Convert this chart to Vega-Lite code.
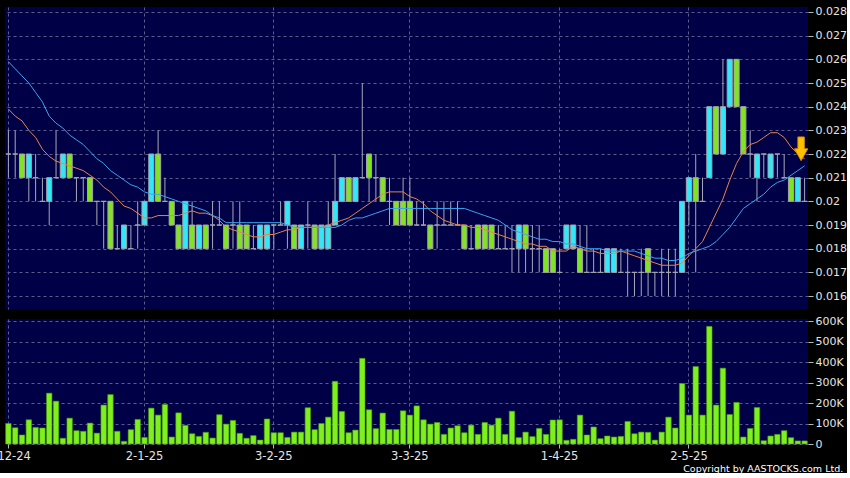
{
"$schema": "https://vega.github.io/schema/vega-lite/v6.json",
"background": "#000000",
"padding": {"left": -15, "top": 5, "right": 0, "bottom": 0},
"spacing": 6,
"config": {
  "view": {"fill": "#000046", "stroke": null},
  "axis": {"labelFont": "DejaVu Sans", "labelFontSize": 11, "labelColor": "#e4e4e4", "domain": false, "tickColor": "#b8b8b8", "gridColor": "#5c5c8c", "gridDash": [3, 3], "gridWidth": 1, "title": null, "labelOverlap": false}
},
"datasets": {
"k": [
{"i":0,"o":0.022,"h":0.023,"l":0.021,"c":0.022,"v":100000,"a":0.0239,"b":0.0259},
{"i":1,"o":0.022,"h":0.023,"l":0.021,"c":0.022,"v":79000,"a":0.0236,"b":0.0256},
{"i":2,"o":0.022,"h":0.022,"l":0.021,"c":0.021,"v":44000,"a":0.0234,"b":0.0253},
{"i":3,"o":0.021,"h":0.022,"l":0.020,"c":0.022,"v":118000,"a":0.0230,"b":0.0250},
{"i":4,"o":0.021,"h":0.022,"l":0.020,"c":0.021,"v":81000,"a":0.0227,"b":0.0246},
{"i":5,"o":0.020,"h":0.021,"l":0.020,"c":0.020,"v":78000,"a":0.0222,"b":0.0242},
{"i":6,"o":0.020,"h":0.021,"l":0.019,"c":0.021,"v":248000,"a":0.0219,"b":0.0236},
{"i":7,"o":0.021,"h":0.023,"l":0.021,"c":0.021,"v":209000,"a":0.0217,"b":0.0233},
{"i":8,"o":0.021,"h":0.022,"l":0.021,"c":0.022,"v":28000,"a":0.0216,"b":0.0231},
{"i":9,"o":0.022,"h":0.022,"l":0.021,"c":0.021,"v":126000,"a":0.0215,"b":0.0228},
{"i":10,"o":0.021,"h":0.021,"l":0.020,"c":0.021,"v":65000,"a":0.0214,"b":0.0226},
{"i":11,"o":0.021,"h":0.021,"l":0.020,"c":0.021,"v":62000,"a":0.0213,"b":0.0224},
{"i":12,"o":0.021,"h":0.021,"l":0.020,"c":0.020,"v":102000,"a":0.0211,"b":0.0221},
{"i":13,"o":0.020,"h":0.020,"l":0.019,"c":0.020,"v":53000,"a":0.0209,"b":0.0218},
{"i":14,"o":0.020,"h":0.020,"l":0.018,"c":0.020,"v":190000,"a":0.0206,"b":0.0216},
{"i":15,"o":0.020,"h":0.020,"l":0.018,"c":0.018,"v":241000,"a":0.0204,"b":0.0213},
{"i":16,"o":0.018,"h":0.019,"l":0.018,"c":0.018,"v":62000,"a":0.0201,"b":0.0211},
{"i":17,"o":0.018,"h":0.019,"l":0.018,"c":0.019,"v":13000,"a":0.0198,"b":0.0209},
{"i":18,"o":0.018,"h":0.019,"l":0.018,"c":0.018,"v":70000,"a":0.0197,"b":0.0207},
{"i":19,"o":0.019,"h":0.020,"l":0.018,"c":0.019,"v":120000,"a":0.0195,"b":0.0206},
{"i":20,"o":0.019,"h":0.020,"l":0.019,"c":0.020,"v":32000,"a":0.0193,"b":0.0204},
{"i":21,"o":0.020,"h":0.022,"l":0.020,"c":0.022,"v":175000,"a":0.0193,"b":0.0203},
{"i":22,"o":0.022,"h":0.023,"l":0.020,"c":0.020,"v":141000,"a":0.0194,"b":0.0203},
{"i":23,"o":0.020,"h":0.021,"l":0.020,"c":0.020,"v":193000,"a":0.0194,"b":0.0202},
{"i":24,"o":0.020,"h":0.020,"l":0.019,"c":0.019,"v":34000,"a":0.0194,"b":0.0201},
{"i":25,"o":0.019,"h":0.019,"l":0.018,"c":0.018,"v":152000,"a":0.0194,"b":0.0200},
{"i":26,"o":0.018,"h":0.020,"l":0.018,"c":0.020,"v":91000,"a":0.0195,"b":0.0199},
{"i":27,"o":0.019,"h":0.020,"l":0.018,"c":0.018,"v":50000,"a":0.0196,"b":0.0198},
{"i":28,"o":0.018,"h":0.019,"l":0.018,"c":0.019,"v":37000,"a":0.0195,"b":0.0197},
{"i":29,"o":0.019,"h":0.019,"l":0.018,"c":0.018,"v":57000,"a":0.0195,"b":0.0196},
{"i":30,"o":0.019,"h":0.020,"l":0.018,"c":0.019,"v":29000,"a":0.0194,"b":0.0194},
{"i":31,"o":0.019,"h":0.020,"l":0.019,"c":0.019,"v":143000,"a":0.0192,"b":0.0193},
{"i":32,"o":0.019,"h":0.019,"l":0.018,"c":0.018,"v":97000,"a":0.0189,"b":0.0191},
{"i":33,"o":0.019,"h":0.020,"l":0.018,"c":0.019,"v":115000,"a":0.0188,"b":0.0191},
{"i":34,"o":0.019,"h":0.020,"l":0.018,"c":0.018,"v":52000,"a":0.0187,"b":0.0191},
{"i":35,"o":0.019,"h":0.019,"l":0.018,"c":0.018,"v":28000,"a":0.0186,"b":0.0191},
{"i":36,"o":0.018,"h":0.019,"l":0.018,"c":0.018,"v":41000,"a":0.0185,"b":0.0191},
{"i":37,"o":0.018,"h":0.019,"l":0.018,"c":0.019,"v":19000,"a":0.0185,"b":0.0191},
{"i":38,"o":0.018,"h":0.019,"l":0.018,"c":0.019,"v":122000,"a":0.0186,"b":0.0191},
{"i":39,"o":0.019,"h":0.019,"l":0.018,"c":0.019,"v":55000,"a":0.0186,"b":0.0191},
{"i":40,"o":0.019,"h":0.020,"l":0.019,"c":0.019,"v":55000,"a":0.0187,"b":0.0191},
{"i":41,"o":0.019,"h":0.020,"l":0.018,"c":0.020,"v":32000,"a":0.0188,"b":0.0190},
{"i":42,"o":0.019,"h":0.019,"l":0.018,"c":0.018,"v":58000,"a":0.0188,"b":0.0189},
{"i":43,"o":0.018,"h":0.019,"l":0.018,"c":0.019,"v":58000,"a":0.0189,"b":0.0189},
{"i":44,"o":0.019,"h":0.020,"l":0.018,"c":0.019,"v":177000,"a":0.0189,"b":0.0189},
{"i":45,"o":0.019,"h":0.019,"l":0.018,"c":0.018,"v":70000,"a":0.0189,"b":0.0189},
{"i":46,"o":0.018,"h":0.019,"l":0.018,"c":0.019,"v":100000,"a":0.0189,"b":0.0189},
{"i":47,"o":0.018,"h":0.020,"l":0.018,"c":0.019,"v":131000,"a":0.0190,"b":0.0189},
{"i":48,"o":0.019,"h":0.022,"l":0.019,"c":0.020,"v":306000,"a":0.0191,"b":0.0189},
{"i":49,"o":0.020,"h":0.021,"l":0.020,"c":0.021,"v":159000,"a":0.0192,"b":0.0190},
{"i":50,"o":0.021,"h":0.021,"l":0.020,"c":0.020,"v":55000,"a":0.0193,"b":0.0192},
{"i":51,"o":0.020,"h":0.021,"l":0.020,"c":0.021,"v":68000,"a":0.0195,"b":0.0193},
{"i":52,"o":0.021,"h":0.025,"l":0.021,"c":0.021,"v":418000,"a":0.0197,"b":0.0193},
{"i":53,"o":0.022,"h":0.022,"l":0.020,"c":0.021,"v":167000,"a":0.0199,"b":0.0194},
{"i":54,"o":0.021,"h":0.022,"l":0.020,"c":0.021,"v":75000,"a":0.0201,"b":0.0195},
{"i":55,"o":0.021,"h":0.021,"l":0.020,"c":0.020,"v":151000,"a":0.0203,"b":0.0196},
{"i":56,"o":0.020,"h":0.021,"l":0.019,"c":0.020,"v":71000,"a":0.0204,"b":0.0197},
{"i":57,"o":0.020,"h":0.020,"l":0.019,"c":0.019,"v":71000,"a":0.0204,"b":0.0197},
{"i":58,"o":0.020,"h":0.021,"l":0.019,"c":0.019,"v":162000,"a":0.0204,"b":0.0197},
{"i":59,"o":0.020,"h":0.021,"l":0.019,"c":0.019,"v":141000,"a":0.0202,"b":0.0197},
{"i":60,"o":0.019,"h":0.020,"l":0.019,"c":0.019,"v":186000,"a":0.0201,"b":0.0197},
{"i":61,"o":0.019,"h":0.020,"l":0.019,"c":0.019,"v":118000,"a":0.0199,"b":0.0197},
{"i":62,"o":0.019,"h":0.019,"l":0.018,"c":0.018,"v":97000,"a":0.0196,"b":0.0197},
{"i":63,"o":0.019,"h":0.020,"l":0.018,"c":0.019,"v":105000,"a":0.0194,"b":0.0197},
{"i":64,"o":0.019,"h":0.020,"l":0.019,"c":0.019,"v":47000,"a":0.0192,"b":0.0197},
{"i":65,"o":0.019,"h":0.020,"l":0.019,"c":0.019,"v":78000,"a":0.0191,"b":0.0197},
{"i":66,"o":0.019,"h":0.020,"l":0.019,"c":0.019,"v":89000,"a":0.0190,"b":0.0197},
{"i":67,"o":0.019,"h":0.019,"l":0.018,"c":0.018,"v":55000,"a":0.0190,"b":0.0197},
{"i":68,"o":0.018,"h":0.019,"l":0.018,"c":0.018,"v":92000,"a":0.0189,"b":0.0196},
{"i":69,"o":0.019,"h":0.019,"l":0.018,"c":0.018,"v":47000,"a":0.0189,"b":0.0195},
{"i":70,"o":0.019,"h":0.019,"l":0.018,"c":0.018,"v":105000,"a":0.0188,"b":0.0194},
{"i":71,"o":0.019,"h":0.019,"l":0.018,"c":0.018,"v":92000,"a":0.0187,"b":0.0193},
{"i":72,"o":0.018,"h":0.019,"l":0.018,"c":0.018,"v":126000,"a":0.0186,"b":0.0192},
{"i":73,"o":0.018,"h":0.019,"l":0.018,"c":0.018,"v":47000,"a":0.0185,"b":0.0190},
{"i":74,"o":0.018,"h":0.019,"l":0.017,"c":0.018,"v":160000,"a":0.0184,"b":0.0188},
{"i":75,"o":0.018,"h":0.019,"l":0.017,"c":0.019,"v":31000,"a":0.0183,"b":0.0187},
{"i":76,"o":0.019,"h":0.019,"l":0.017,"c":0.018,"v":58000,"a":0.0182,"b":0.0186},
{"i":77,"o":0.018,"h":0.019,"l":0.017,"c":0.018,"v":36000,"a":0.0182,"b":0.0185},
{"i":78,"o":0.018,"h":0.019,"l":0.017,"c":0.018,"v":76000,"a":0.0181,"b":0.0184},
{"i":79,"o":0.018,"h":0.018,"l":0.017,"c":0.017,"v":47000,"a":0.0181,"b":0.0184},
{"i":80,"o":0.018,"h":0.018,"l":0.017,"c":0.017,"v":117000,"a":0.0179,"b":0.0183},
{"i":81,"o":0.017,"h":0.018,"l":0.017,"c":0.017,"v":118000,"a":0.0179,"b":0.0183},
{"i":82,"o":0.018,"h":0.019,"l":0.018,"c":0.019,"v":18000,"a":0.0179,"b":0.0182},
{"i":83,"o":0.018,"h":0.019,"l":0.018,"c":0.019,"v":23000,"a":0.0181,"b":0.0182},
{"i":84,"o":0.018,"h":0.019,"l":0.017,"c":0.017,"v":141000,"a":0.0180,"b":0.0181},
{"i":85,"o":0.017,"h":0.019,"l":0.017,"c":0.017,"v":44000,"a":0.0179,"b":0.0180},
{"i":86,"o":0.017,"h":0.018,"l":0.017,"c":0.017,"v":83000,"a":0.0179,"b":0.0180},
{"i":87,"o":0.017,"h":0.018,"l":0.017,"c":0.017,"v":26000,"a":0.0178,"b":0.0180},
{"i":88,"o":0.017,"h":0.018,"l":0.017,"c":0.018,"v":39000,"a":0.0178,"b":0.0179},
{"i":89,"o":0.017,"h":0.018,"l":0.017,"c":0.018,"v":34000,"a":0.0178,"b":0.0179},
{"i":90,"o":0.017,"h":0.018,"l":0.017,"c":0.017,"v":37000,"a":0.0179,"b":0.0179},
{"i":91,"o":0.017,"h":0.018,"l":0.016,"c":0.017,"v":110000,"a":0.0178,"b":0.0179},
{"i":92,"o":0.017,"h":0.017,"l":0.016,"c":0.017,"v":50000,"a":0.0177,"b":0.0179},
{"i":93,"o":0.017,"h":0.018,"l":0.016,"c":0.017,"v":58000,"a":0.0176,"b":0.0178},
{"i":94,"o":0.018,"h":0.018,"l":0.016,"c":0.017,"v":57000,"a":0.0175,"b":0.0177},
{"i":95,"o":0.017,"h":0.017,"l":0.016,"c":0.017,"v":19000,"a":0.0174,"b":0.0176},
{"i":96,"o":0.017,"h":0.018,"l":0.016,"c":0.017,"v":58000,"a":0.0173,"b":0.0176},
{"i":97,"o":0.017,"h":0.018,"l":0.016,"c":0.017,"v":131000,"a":0.0173,"b":0.0175},
{"i":98,"o":0.017,"h":0.018,"l":0.016,"c":0.017,"v":78000,"a":0.0173,"b":0.0175},
{"i":99,"o":0.017,"h":0.020,"l":0.017,"c":0.020,"v":295000,"a":0.0174,"b":0.0176},
{"i":100,"o":0.020,"h":0.021,"l":0.019,"c":0.021,"v":141000,"a":0.0177,"b":0.0178},
{"i":101,"o":0.021,"h":0.022,"l":0.017,"c":0.020,"v":378000,"a":0.0180,"b":0.0179},
{"i":102,"o":0.020,"h":0.021,"l":0.020,"c":0.020,"v":141000,"a":0.0183,"b":0.0180},
{"i":103,"o":0.021,"h":0.024,"l":0.021,"c":0.024,"v":574000,"a":0.0189,"b":0.0181},
{"i":104,"o":0.024,"h":0.024,"l":0.022,"c":0.022,"v":190000,"a":0.0195,"b":0.0183},
{"i":105,"o":0.022,"h":0.026,"l":0.022,"c":0.024,"v":370000,"a":0.0201,"b":0.0186},
{"i":106,"o":0.024,"h":0.026,"l":0.024,"c":0.026,"v":144000,"a":0.0209,"b":0.0189},
{"i":107,"o":0.026,"h":0.026,"l":0.024,"c":0.024,"v":203000,"a":0.0216,"b":0.0193},
{"i":108,"o":0.024,"h":0.024,"l":0.022,"c":0.022,"v":34000,"a":0.0221,"b":0.0197},
{"i":109,"o":0.022,"h":0.023,"l":0.021,"c":0.022,"v":76000,"a":0.0224,"b":0.0199},
{"i":110,"o":0.021,"h":0.022,"l":0.020,"c":0.022,"v":178000,"a":0.0225,"b":0.0201},
{"i":111,"o":0.022,"h":0.022,"l":0.021,"c":0.022,"v":16000,"a":0.0227,"b":0.0203},
{"i":112,"o":0.021,"h":0.022,"l":0.021,"c":0.022,"v":39000,"a":0.0229,"b":0.0206},
{"i":113,"o":0.022,"h":0.022,"l":0.021,"c":0.022,"v":47000,"a":0.0229,"b":0.0208},
{"i":114,"o":0.021,"h":0.022,"l":0.021,"c":0.021,"v":65000,"a":0.0227,"b":0.0209},
{"i":115,"o":0.021,"h":0.021,"l":0.020,"c":0.020,"v":31000,"a":0.0223,"b":0.0211},
{"i":116,"o":0.020,"h":0.021,"l":0.020,"c":0.021,"v":15000,"a":0.0220,"b":0.0213},
{"i":117,"o":0.020,"h":0.021,"l":0.020,"c":0.020,"v":15000,"a":0.0218,"b":0.0215}
],
"sig": [{"i": 117, "p": 0.02222}]
},
"vconcat": [
{
  "width": 803,
  "height": 302,
  "data": {"name": "k"},
  "encoding": {
    "x": {"field": "i", "type": "ordinal",
      "scale": {"paddingInner": 0.25, "paddingOuter": 0.125},
      "axis": {"values": [0, 20, 39, 59, 81, 100], "labels": false, "ticks": false, "grid": true, "bandPosition": 0.5, "minExtent": 0, "maxExtent": 0, "offset": 0}}
  },
  "layer": [
    {"mark": {"type": "rule", "color": "#a8a8b8", "strokeWidth": 1},
     "encoding": {
       "y": {"field": "l", "type": "quantitative",
         "scale": {"domain": [0.015452, 0.028211], "nice": false, "zero": false},
         "axis": {"orient": "right", "values": [0.016, 0.017, 0.018, 0.019, 0.02, 0.021, 0.022, 0.023, 0.024, 0.025, 0.026, 0.027, 0.028], "tickCount": 13, "labelExpr": "format(datum.value, '.3~f')", "grid": true, "tickSize": 5, "labelPadding": 2, "labelOverlap": false, "labelBound": false, "labelSeparation": 0}},
       "y2": {"field": "h"}}},
    {"mark": {"type": "bar", "stroke": "#a4a4ac", "strokeWidth": 1},
     "encoding": {
       "y": {"field": "o", "type": "quantitative", "axis": {"orient": "right", "values": [0.016, 0.017, 0.018, 0.019, 0.02, 0.021, 0.022, 0.023, 0.024, 0.025, 0.026, 0.027, 0.028], "tickCount": 13, "labelExpr": "format(datum.value, '.3~f')", "grid": true, "tickSize": 5, "labelPadding": 2, "labelOverlap": false, "labelBound": false, "labelSeparation": 0}},
       "y2": {"field": "c"},
       "fill": {"condition": {"test": "datum.c > datum.o", "value": "#30e8f8"}, "value": "#80e41e"}}},
    {"mark": {"type": "line", "color": "#e8844a", "strokeWidth": 1},
     "encoding": {"y": {"field": "a", "type": "quantitative"}}},
    {"mark": {"type": "line", "color": "#3aa4ee", "strokeWidth": 1},
     "encoding": {"y": {"field": "b", "type": "quantitative"}}},
    {"data": {"name": "sig"},
     "mark": {"type": "point", "shape": "M-0.27,-1L0.27,-1L0.27,0L0.56,0L0,1L-0.56,0L-0.27,0Z", "size": 560, "filled": true, "fill": "#ffc000", "stroke": "#d89000", "strokeWidth": 1, "opacity": 1, "xOffset": -3.5},
     "encoding": {"y": {"field": "p", "type": "quantitative"}}}
  ]
},
{
  "width": 803,
  "height": 125,
  "data": {"name": "k"},
  "mark": {"type": "bar", "fill": "#7ef01e", "stroke": "#4c9a10", "strokeWidth": 0.6},
  "encoding": {
    "x": {"field": "i", "type": "ordinal",
      "scale": {"paddingInner": 0.2, "paddingOuter": 0.1},
      "axis": {"values": [0, 20, 39, 59, 81, 100], "labelExpr": "datum.value == 0 ? '2-12-24' : datum.value == 20 ? '2-1-25' : datum.value == 39 ? '3-2-25' : datum.value == 59 ? '3-3-25' : datum.value == 81 ? '1-4-25' : '2-5-25'", "labelAngle": 0, "labelFontSize": 11.5, "grid": true, "tickSize": 4, "labelPadding": 2, "bandPosition": 0.5, "minExtent": 0}},
    "y": {"field": "v", "type": "quantitative",
      "scale": {"domain": [0, 610000], "nice": false},
      "axis": {"orient": "right", "values": [0, 100000, 200000, 300000, 400000, 500000, 600000], "labelExpr": "datum.value == 0 ? '0' : (datum.value / 1000) + 'K'", "grid": true, "tickSize": 5, "labelPadding": 2, "labelOverlap": false}}
  },
  "title": {"text": "Copyright by AASTOCKS.com Ltd.", "orient": "bottom", "anchor": "end", "frame": "bounds", "color": "#ffffff", "fontSize": 9.5, "font": "DejaVu Sans", "fontWeight": "normal", "offset": 2}
}
]
}
